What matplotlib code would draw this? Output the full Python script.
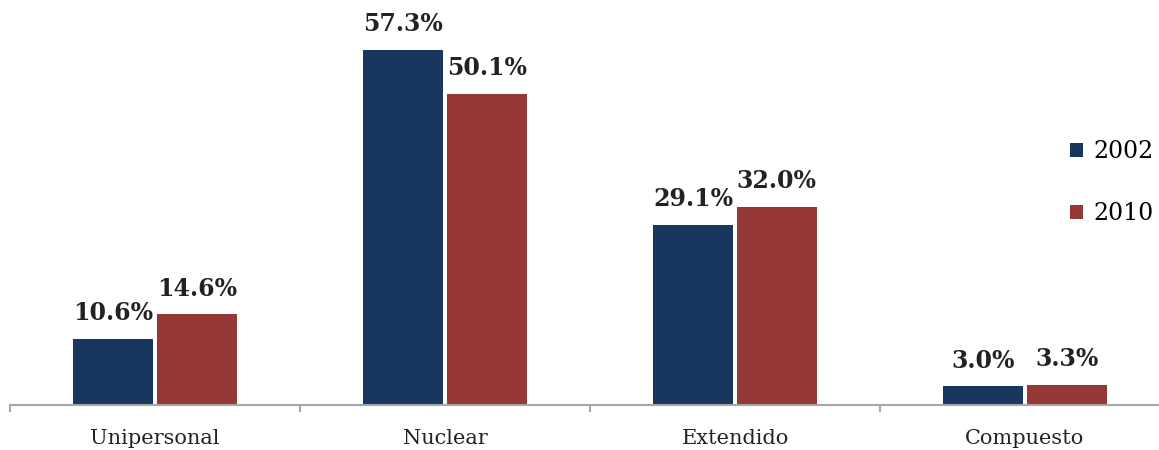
import numpy as np
import matplotlib.pyplot as plt

# Tipo de hogar, porcentaje por año
categorias = ["Unipersonal", "Nuclear", "Extendido", "Compuesto"]
v2002 = [10.6, 57.3, 29.1, 3.0]
v2010 = [14.6, 50.1, 32.0, 3.3]

azul = "#17375E"
rojo = "#953735"

fig = plt.figure(figsize=(11.59, 4.5), dpi=100)
ax = fig.add_axes([10/1159, 0.1, 1 - 10/1159, 0.9])

x = np.arange(len(categorias))
w = 0.276
off = 0.144

b1 = ax.bar(x - off, v2002, w, color=azul, label="2002")
b2 = ax.bar(x + off, v2010, w, color=rojo, label="2010")

for barras, vals in ((b1, v2002), (b2, v2010)):
    for b, v in zip(barras, vals):
        ax.annotate(f"{v:.1f}%", (b.get_x() + b.get_width()/2, v),
                    xytext=(0, 10), textcoords="offset points",
                    ha="center", va="bottom", fontsize=17,
                    fontweight="bold", family="DejaVu Serif", color="#222222")

for s in ("left", "top", "right"):
    ax.spines[s].set_visible(False)
ax.spines["bottom"].set_color("#A6A6A6")
ax.spines["bottom"].set_linewidth(1.5)

ax.set_yticks([])
ax.set_xticks(x)
ax.set_xticklabels(categorias, fontsize=15, family="DejaVu Serif", color="#222222")
ax.tick_params(axis="x", which="major", length=0, pad=17)
ax.set_xticks(np.arange(-0.5, 3, 1), minor=True)
ax.tick_params(axis="x", which="minor", length=5, width=1.5, color="#A6A6A6")

# limites despues de los ticks (set_xticks amplia la vista)
ax.set_xlim(-0.5, -0.5 + 1149/290)
ax.set_ylim(0, 405/6.2)

leg = ax.legend(loc="upper left", frameon=False,
                prop={"family": "DejaVu Serif", "size": 17},
                handlelength=0.55, handleheight=0.55, handletextpad=0.45,
                labelspacing=1.67, borderpad=0, borderaxespad=0)
leg.set_bbox_to_anchor((1070/1159, 1 - 140/450), transform=fig.transFigure)

fig.savefig("out.png", dpi=100)
